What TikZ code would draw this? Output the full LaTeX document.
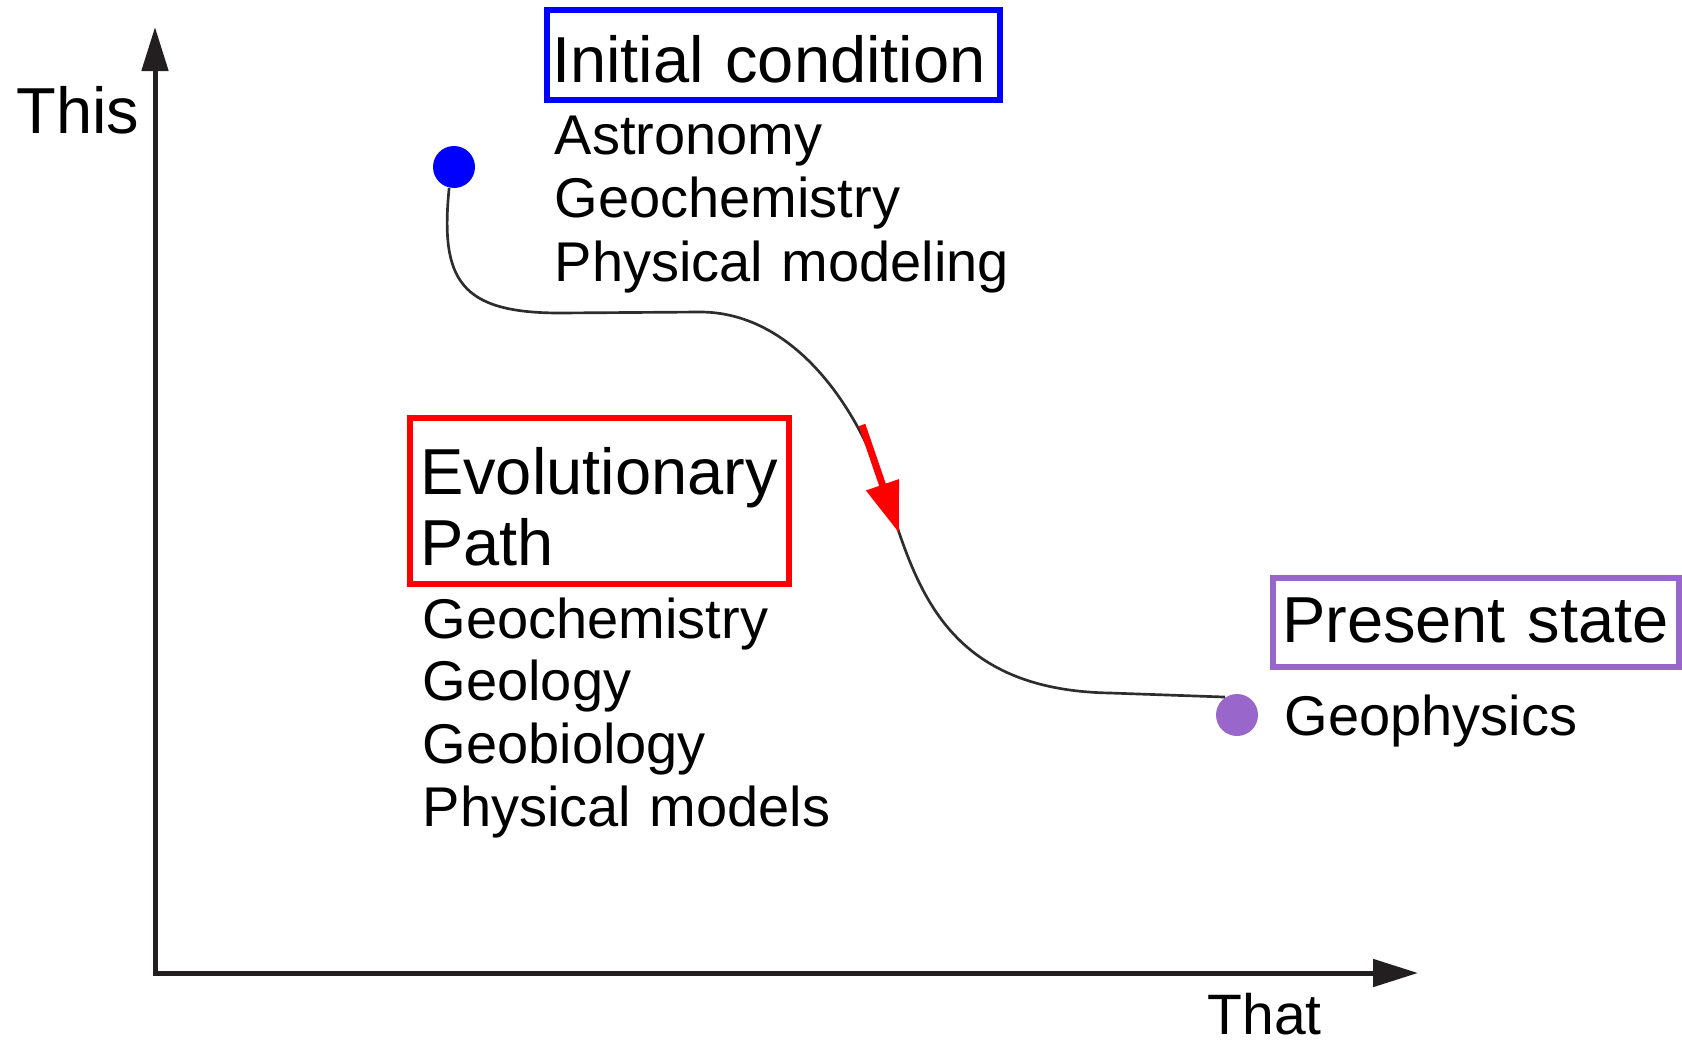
\documentclass[tikz,border=0pt]{standalone}
\usepackage{fontspec}
\setmainfont{Liberation Sans}
\usetikzlibrary{arrows.meta}
\definecolor{boxblue}{RGB}{0,0,255}
\definecolor{boxred}{RGB}{255,0,0}
\definecolor{boxpurple}{RGB}{153,102,204}
\definecolor{axisgray}{RGB}{35,31,32}
\definecolor{curvegray}{RGB}{45,45,45}
\tikzset{
  titlefont/.style={font=\fontsize{19.5pt}{21.3pt}\selectfont},
  subfont/.style={font=\fontsize{16.8pt}{19pt}\selectfont},
  frame/.style={draw, line width=1.8pt, inner ysep=0pt, align=left, titlefont},
  sublist/.style={anchor=base west, inner sep=0pt, text width=150pt, align=left, subfont},
  axislabel/.style={anchor=base west, inner sep=0pt},
  dot/.style={circle, inner sep=0pt, minimum size=12.6pt},
  axisline/.style={line width=1.5pt, draw=axisgray, {Triangle[length=13.2pt,width=7.8pt]}-{Triangle[length=13.5pt,width=8.1pt]}},
  pathline/.style={line width=0.8pt, draw=curvegray},
  redarrow/.style={line width=2.1pt, draw=boxred, -{Triangle[length=15.3pt,width=9.9pt]}}
}
\begin{document}
\begin{tikzpicture}[x=0.3pt, y=-0.3pt]
\useasboundingbox (0,0) rectangle (1682,1047);
% axes
\coordinate (ytop) at (155,27);
\coordinate (O) at (155,973);
\coordinate (xend) at (1418,973);
\draw[axisline] (ytop) -- (O) -- (xend);
\node[axislabel, font=\fontsize{19.5pt}{21pt}\selectfont] (this) at (16,133) {This};
\node[axislabel, font=\fontsize{17.1pt}{19pt}\selectfont] (that) at (1207,1034) {That};
% initial condition
\node[frame, draw=boxblue, minimum width=135.9pt, minimum height=27pt, inner xsep=1.5pt,
      text width=132.9pt, text height=16.2pt, text depth=0pt] (init) at (773.5,55) {Initial condition};
\node[sublist, font=\fontsize{16.8pt}{19.05pt}\selectfont] (initlist) at (554,154)
  {Astronomy\\Geochemistry\\Physical modeling};
% evolutionary path
\node[frame, draw=boxred, minimum width=113.7pt, minimum height=49.8pt, inner xsep=3pt,
      text width=107.7pt, text height=18pt, text depth=22.2pt] (evo) at (599.5,501) {Evolutionary\\Path};
\node[sublist, font=\fontsize{16.8pt}{18.8pt}\selectfont] (evolist) at (422,638)
  {Geochemistry\\Geology\\Geobiology\\Physical models};
% present state
\node[frame, draw=boxpurple, minimum width=121.8pt, minimum height=26.7pt, inner xsep=2.7pt,
      text width=116.4pt, text height=11.7pt, text depth=0pt] (pres) at (1476,622.5) {Present state};
\node[sublist] (preslist) at (1284,735) {Geophysics};
% dots
\node[dot, fill=boxblue] (ini) at (454,167) {};
\node[dot, fill=boxpurple] (now) at (1237,715) {};
% evolutionary curve
\draw[pathline] (ini.257) .. controls (440,280) and (460,313) .. (560,313)
  -- (700,312) .. controls (790,312) and (855,400) .. (885,490)
  .. controls (915,580) and (940,690) .. (1110,693) -- (now.124);
% red arrow
\coordinate (rs) at (862,425);
\coordinate (re) at (899,533);
\draw[redarrow] (rs) -- (re);
\end{tikzpicture}
\end{document}
